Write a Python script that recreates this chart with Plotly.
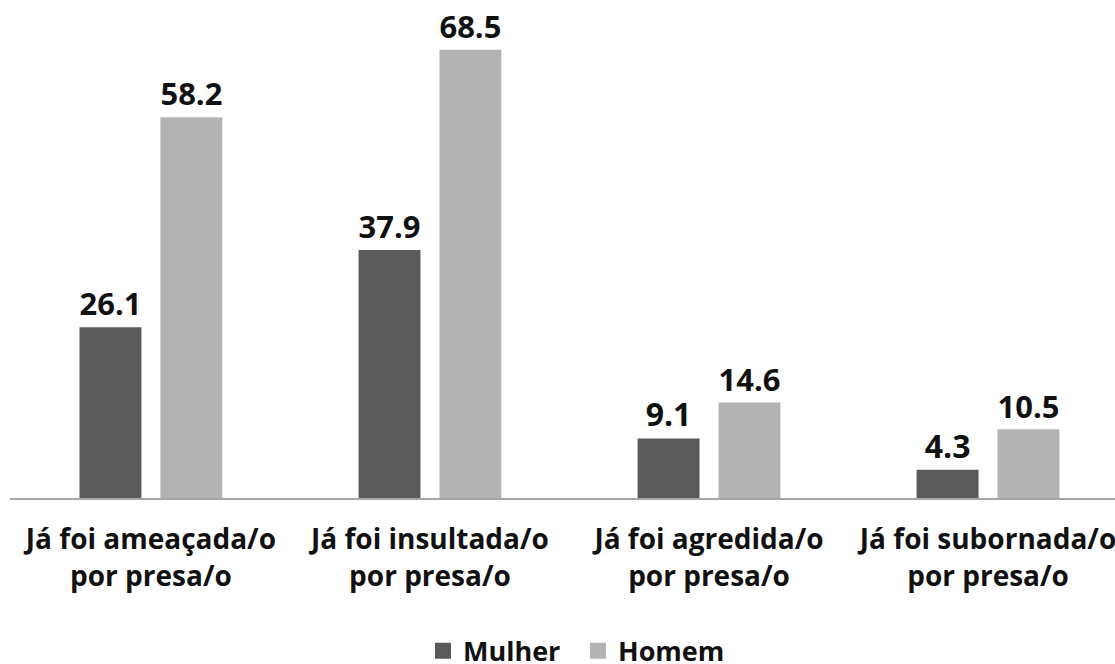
import plotly.graph_objects as go

categories = [
    "Já foi ameaçada/o<br>por presa/o",
    "Já foi insultada/o<br>por presa/o",
    "Já foi agredida/o<br>por presa/o",
    "Já foi subornada/o<br>por presa/o",
]
series_names = ["Mulher", "Homem"]
mulher = [26.1, 37.9, 9.1, 4.3]
homem = [58.2, 68.5, 14.6, 10.5]

FONT = "Open Sans"
DARK, LIGHT = "#5a5a5a", "#b3b3b3"
x_pos = list(range(len(categories)))

fig = go.Figure()
for name, vals, color in zip(series_names, [mulher, homem], [DARK, LIGHT]):
    fig.add_trace(go.Bar(
        x=x_pos, y=vals, name=name, showlegend=False,
        marker=dict(color=color, line=dict(width=0)),
        text=[f"{v:.1f}" for v in vals], textposition="outside",
        textfont=dict(family=FONT, size=32, color="#111111", weight="bold"),
        cliponaxis=False,
    ))

# legend keys with larger square swatches
for name, color in zip(series_names, [DARK, LIGHT]):
    fig.add_trace(go.Scatter(
        x=[None], y=[None], mode="markers", name=name,
        marker=dict(symbol="square", size=16, color=color),
    ))

fig.update_layout(
    width=1115, height=664,
    margin=dict(l=10, r=0, t=0, b=166),
    paper_bgcolor="white", plot_bgcolor="white",
    barmode="group", bargap=0.42, bargroupgap=0.235,
    font=dict(family=FONT, color="#111111"),
    showlegend=True,
    legend=dict(
        orientation="h", x=0.514, xanchor="center",
        yref="container", y=0.056, yanchor="top",
        font=dict(family=FONT, size=27, color="#111111", weight="bold"),
        traceorder="normal", itemwidth=30, entrywidth=110,
    ),
)
fig.update_xaxes(
    range=[-0.505, 3.455], automargin=False,
    tickmode="array", tickvals=x_pos, ticktext=categories,
    tickfont=dict(family=FONT, size=28, color="#111111", weight="bold"),
    ticklabelstandoff=16, ticklabeloverflow="allow",
    showline=True, linecolor="#a6a6a6", linewidth=1.5,
    showgrid=False, zeroline=False, ticks="",
)
fig.update_yaxes(
    range=[0, 76.1], visible=False, showgrid=False, zeroline=False,
    automargin=False,
)

fig.write_html("out.html")
